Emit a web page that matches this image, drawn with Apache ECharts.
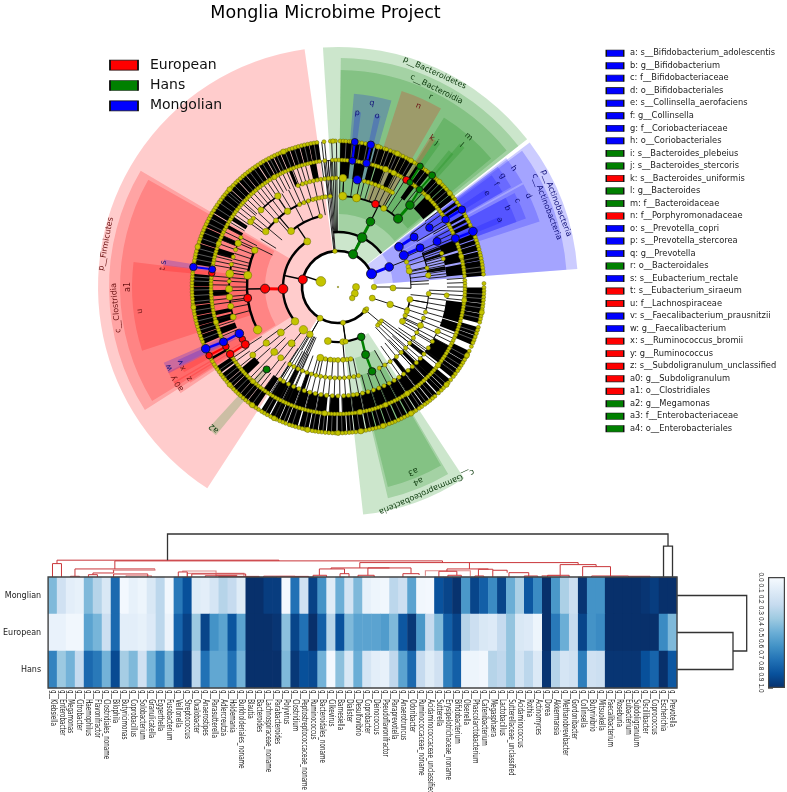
<!DOCTYPE html>
<html><head><meta charset="utf-8">
<style>html,body{margin:0;padding:0;background:#fff}#c{width:787px;height:792px}</style>
<script src="https://cdn.jsdelivr.net/npm/echarts@6/dist/echarts.min.js"></script>
</head><body><div id="c"></div>
<script>
const titleText='Monglia Microbime Project';
const groups=['European','Hans','Mongolian'];
const groupColors=['#ff0000','#008000','#0000ff'];
const taxa=['a: s__Bifidobacterium_adolescentis','b: g__Bifidobacterium','c: f__Bifidobacteriaceae','d: o__Bifidobacteriales','e: s__Collinsella_aerofaciens','f: g__Collinsella','g: f__Coriobacteriaceae','h: o__Coriobacteriales','i: s__Bacteroides_plebeius','j: s__Bacteroides_stercoris','k: s__Bacteroides_uniformis','l: g__Bacteroides','m: f__Bacteroidaceae','n: f__Porphyromonadaceae','o: s__Prevotella_copri','p: s__Prevotella_stercorea','q: g__Prevotella','r: o__Bacteroidales','s: s__Eubacterium_rectale','t: s__Eubacterium_siraeum','u: f__Lachnospiraceae','v: s__Faecalibacterium_prausnitzii','w: g__Faecalibacterium','x: s__Ruminococcus_bromii','y: g__Ruminococcus','z: s__Subdoligranulum_unclassified','a0: g__Subdoligranulum','a1: o__Clostridiales','a2: g__Megamonas','a3: f__Enterobacteriaceae','a4: o__Enterobacteriales'];
const taxaGroup=[2,2,2,2,2,2,2,2,1,1,0,1,1,0,2,2,2,1,2,0,0,2,2,0,0,0,0,0,1,1,1];

// [inner radius, outer radius, start angle, end angle, group]
const wedges=[
[36,240,213,352,0],[55,229,237.5,300.5,0],[73,218,238.5,299.5,0],[91,206,252,277,0],
[36,240,356.4,52,1],[55,229,0.7,52,1],[73,217,0.7,51,1],[91,200,32,50,1],[109,194,4.7,16,2],[91,206,18,30,0],
[36,240,53,85.7,2],[55,229,53.5,85.7,2],[73,212,52.5,60.5,2],[73,212,61,72,2],[91,200,53,60,2],[91,200,62,70,2],[109,190,54,60,2],[109,190,62,70,2],
[55,229,146.6,173.7,1],[73,217,149.5,166.7,1],[91,206,150,166,1],
[127,176,5.5,7.5,2],[127,176,12,14,2],[127,176,31.5,33.5,0],[127,176,33.5,35.5,1],[146,176,39,41,1],[109,188,40.3,42.3,1],
[127,176,56.5,58.5,2],[127,176,66.5,68.5,2],
[127,176,277,279,2],[127,176,275.3,277.3,0],[109,190,236,240,0],[109,190,239.5,243.5,0],[127,176,241,243,0],[127,176,237,239,0],[109,190,243,246.5,2],[127,176,243.5,245.5,2],[109,192,219.5,222.5,1]
];
const wedgeTexts=['p__Bacteroidetes','c__Bacteroidia','r','n','q','p','o','m','l','k','j','p__Actinobacteria','c__Actinobacteria','h','g','f','e','d','c','b','a','p__Firmicutes','c__Clostridia','a1','u','s','t','v','w','x','y','z','a0','a2','c__Gammaproteobacteria','a4','a3'];
// [radius, angle, group]
const wedgeTextPos=[[235,24.3,1],[221,26.5,1],[211.6,26,1],[198,24,0],[187,10.4,2],[175,6.3,2],[175.5,12.9,2],[199,41,1],[188,41,1],[176,32.2,0],[175,34.4,1],[234,69,2],[223.6,69,2],[212,56,2],[198.6,56,2],[188.4,57,2],[175.8,57.8,2],[211,64.4,2],[199,64.3,2],[186.6,65,2],[175,67.5,2],[236,280.5,0],[223,264.6,0],[210,270,0],[199.5,263,0],[176,278,2],[176,276,0],[174.4,244.4,2],[187,244.5,2],[175,242.4,0],[188,241,0],[174.5,238.4,0],[187,238,0],[188,221.3,1],[223,156.6,1],[210,157.6,1],[199,157.9,1]];

const outerBands=[[0.9,14.3],[15,18.9],[19.2,22.5],[22.8,25.5],[25.8,27.8],[28,31.4],[32.8,34],[35,39],[41,44.4],[44.6,46.5],[46.8,50.3],[50.5,52.7],[54,55.2],[56,57.2],[60,61.2],[62,63.2],[64,65.6],[68.5,70.6],[71,72.8],[73.1,75.4],[75.8,79.3],[79.5,85.6],[90.2,96.4],[96.6,100.5],[100.7,104.4],[106,109.4],[109.6,113.4],[116,120.4],[120.6,124.4],[124.6,128.5],[129.6,133.4],[133.6,136.8],[137.3,140.7],[141,144],[144.3,147.4],[147.8,151.2],[151.7,155.7],[156.2,160.6],[161,164.6],[165,168.7],[169.2,173.4],[173.8,176.3],[176.7,180.2],[180.6,184.4],[184.8,187.7],[188,191.4],[191.8,195.6],[196.2,200.4],[200.7,203.7],[204,207.8],[208.3,212],[214,218.4],[218.6,222.4],[222.6,226.4],[226.6,229.4],[229.6,233.2],[233.8,236.8],[240,241],[247,250.8],[251,254.3],[254.5,258.3],[258.6,262.5],[262.9,270.2],[270.4,275.2],[279,287.4],[287.7,294.2],[294.5,300.4],[300.8,312.2],[312.4,316.5],[316.8,320.4],[320.6,326.5],[326.9,330.5],[330.8,333.4],[333.7,336.5],[336.8,340.4],[340.7,344.5],[344.8,348.4],[348.6,352.3]];
const midBands=[[1,5.5],[7.5,12.5],[14,17],[17.5,21.5],[24,26.5],[35,37.5],[44,51.5],[68,73],[74,78.5],[79.5,84.5],[97,106.4],[106.8,111],[118,127],[130,135.9],[136.4,141.9],[142.4,146.9],[147.4,151.9],[152.4,156.9],[157.4,161.9],[162.4,167.9],[168.4,172.9],[173.4,177.9],[179.4,183.9],[185.4,189.9],[190.4,194.9],[195.4,199.9],[200.4,205.9],[206.4,211.9],[213,216],[226,230],[248,251],[253,256],[257,259],[266,268.5],[285,288],[292,294],[298,299.5],[302,304],[337,338.5],[347,350]];
const lowBands=[[68.5,70],[72,73.5],[79,81],[127,129],[134,136],[141,143],[198,200],[205,207.5]];
// thin pale lines that show between the dense branches
const paleLines=[3.2,5.7,8.8,11.6,16.4,20.6,24,30,37,43,48.6,78,82,84,92.8,94.6,98.3,102.4,108,111.2,118.4,122.6,126.3,131.8,135,139,142.6,145.6,149.5,153.6,158.4,163,167,171.4,175,178.4,182.6,186,190,193.4,198.4,202,206,210,216.2,220.4,224.5,228,231.4,235,249,252.7,256.4,260.6,264.2,266.6,268.8,272.4,274,281,283.2,285.4,289.6,292,296,298.3,303,305.4,307.5,309.8,311,314.4,318.6,322.5,324.6,328.6,332,335,338.6,342.5,346.6,350.5];
const lines109=[247,252,255,262,264,266,268,271,273,275,280,282,284,285.5,290,292,294,296,298,301,303,305,307,309,311,312,314,316,318,320,322,324,326,328,330,332,334,336,339,341,343,345,352.5,354,355.5,357,358.5,22,27,28,30,32,39,42,53,55,58,61,63,65,67,86,88,90,92,94,96,112,114,116,118,128,136,142,147,152,157,162,168,173,178,184,190,195,200,206,212,216,218,220,222,224,231,234,236];
const lines91=[255,259,262,265,268,270,273,275,279,281,283,285,288,291,295,297,306,310,313,317,320,323,326,329,333,336,339,343,347,351,354,356,1,3,8,14,17,20,23,26,29,32,36,54,60,66,68,69.5,71,72.5,74,75.5,77,78.5,80,81.5,83,84.5,92,94,97,100,103,106,109,112,115,118,121,125,129,133,137,141,145,149,153,157,161,165,169,173,176,179,182,185,188,191,194,197,200,203,206,209,212,215,219,224,228,232,237];
const lines73=[296,302,310,318,332,340,346,350,66,70,73,78,80,83,86,88,96,100,104,108,112,116,120,124,128,132,136,140,144,150,168,172,176,180,184,188,192,196,200,204,207,209,213,217,222,226,230,234];
// [inner radius, outer radius, angle]
const longSpokes=[[36,146,353.6],[36,146,354.7],[36,127,355.6],[55,127,356.5],[55,146,357.5],[55,127,358.5],[55,146,359.4],[55,146,206],[55,146,207.5],[55,146,205],[55,127,203.5],[36,73,210],[36,55,172],[55,146,211],[55,127,212.5],[55,109,128],[55,109,131],[55,127,134],[55,146,126],[55,127,137]];
// [parent radius, child radius, parent angle, arc start, arc end, width]
const branches=[[18,36,288,130,68.6,2.6],[36,55,282,231.4,326,2.4],[36,55,25,355,52,2.4],[36,55,172,155,190.6,2.2],[36,55,130,128,134,1],[36,55,108,107,109,1],[36,55,90,90,92,1],[36,55,210,210,212,1],[55,73,326,320,346,2.2],[55,73,175,170,194,1.8],[55,73,108.5,99.8,118,1.6],[55,73,231.4,229,233,1],[55,73,219,216,222,1.4],[55,73,91,77.3,91,1],[55,73,68.6,56.6,64.3,1.2],[73,91,268.7,242,293.8,2.4],[73,91,320,307.5,348,2],[73,91,26.4,3,41.3,2],[73,91,194,167,212,1.3],[73,91,77.3,68,82.6,1.2],[73,91,115,110,120,1.2],[73,91,100,94.2,106,1],[73,91,118,120,153,1],[91,109,277.4,269,281,1.8],[91,109,263,254,265,1.6],[91,109,293.8,290,297,1.4],[91,109,326.3,315,326.5,1.6],[91,109,307.5,306.7,309,1.4],[91,109,3,338,3,1.4],[91,109,11.7,10.2,12,1],[91,109,30.2,14,30,1.4],[91,109,212,180,212,1.1],[91,109,120,114,172,1],[109,127,3,340,30,0.8],[109,127,60,55,85,0.8],[109,127,100,90,200,0.8],[109,127,215,205,300,0.8]];
// [radius a, angle a, radius b, angle b, group, width]
const markerLinks=[[55,268,73,268.7,0,3],[127,242,146,242,0,2.2],[109,238.2,127,238.1,0,2],[36,68.6,55,68.6,2,3],[73,56.6,91,56.7,2,3],[73,64.3,91,64.5,2,3],[127,57.9,146,58,2,2.4],[127,67.5,146,67.6,2,2.4],[127,244.4,146,245,2,2.4],[109,244.8,127,244.4,2,2.4],[127,6.5,146,6.6,2,2.2],[127,13,146,13,2,2.2],[127,278,146,277.9,2,2],[55,26,73,26.4,1,3],[91,41.3,109,41.3,1,3],[109,41.3,127,39.9,1,2],[127,39.9,146,40.1,1,2],[127,34.5,146,34.2,1,2],[55,155,73,157.8,1,2.5],[73,157.8,91,158,1,2.5],[36,25,55,26,1,3]];
// [radius, angle, size, group]
const markerNodes=[[36,282,9,0],[55,268,9.6,0],[73,268.7,9,0],[91,263,8,0],[109,241.4,6.5,0],[109,238.2,8,0],[127,238.1,7.5,0],[127,242,6.5,0],[146,242,6.5,0],[127,276.3,6.5,0],[127,32.5,7,0],[91,24.3,7.5,0],
[36,24.7,9,1],[55,26,9.6,1],[73,26.4,8.5,1],[91,41.3,9,1],[109,41.3,8.5,1],[127,39.9,6.5,1],[146,40.1,7,1],[127,34.5,6,1],[146,34.2,6.5,1],[55,155,7.5,1],[73,157.8,8,1],[91,158,7.5,1],[109,220.9,7,1],
[36,68.6,10,2],[55,68.6,8.5,2],[73,56.6,8.5,2],[73,64.3,9,2],[91,56.7,8,2],[91,64.5,8,2],[109,57,7.5,2],[109,65.3,8,2],[127,57.9,7.5,2],[127,67.5,8,2],[146,58,7.5,2],[146,67.6,8.5,2],[109,10.2,8.5,2],[127,6.5,7,2],[127,13,7.5,2],[146,6.6,7,2],[146,13,7.5,2],[127,278,7,2],[146,277.9,7.5,2],[109,244.8,8.5,2],[127,244.4,8,2],[146,245,8.5,2]];
// [radius, angle, size]
const largeYellow=[[18,288,9.8],[18,90,7],[18,111,7],[18,128,5.5],[0,0,1.5],[36,90,5.5],[36,108,6],[36,210,6],[36,172,5],[36,355,4.5],[36,130,5.5],[36,127,4],[36,133,4],
[55,326,7],[55,231.4,7.5],[55,219,8.5],[55,210.7,6.5],[55,190.6,7],[55,175,6],[55,172,5],[55,91,6],[55,108.5,6.5],[55,131,4.5],[55,128,4],[55,134,4],
[73,320,7],[73,346,4.5],[73,231.5,7],[73,219.5,7],[73,194,7],[73,77.3,6],[73,99.8,6],[73,109.6,5],[73,118,6],[73,186,5],[73,180,5],[73,176,5],
[91,3,8],[91,11.7,8],[91,30.2,6],[91,277.4,8],[91,293.8,6.5],[91,242,8.5],[91,307.5,6.5],[91,326.3,6.5],[91,317,5],[91,224.5,7],[91,232,6.5],[91,219,6],[91,115,6],[91,94.2,5],[91,82.6,5.5],
[109,277,8],[109,269,7],[109,264.7,6.5],[109,259.8,6],[109,254,6],[109,293.7,6.5],[109,306.7,6],[109,315,6],[109,326.5,6.5],[109,2.6,7.5],[109,94.4,5],[109,114,5.5],[109,231.4,6],
[146,358,4.6],[146,24,5.4],[146,30,5],[127,22,6],[127,26,5.4],[146,171,5.4],[146,150,5.4],[127,170,5.4],[127,147,5.4],[146,16,5],[146,44,5.4],[146,50,5],[146,100,5.2],[146,118,5],[146,132,5.2],[146,162,5.4],[146,180,5],[146,192,5.4],[146,206,5],[146,216,5.4],[146,228,5],[146,262,5.2],[146,286,5.4],[146,312,5.2],[146,338,5.4],[127,12,5],[127,45,5.2],[127,76,5],[127,96,5.2],[127,128,5.2],[127,158,5],[127,186,5.4],[127,222,5],[127,254,5.2],[127,290,5.2],[127,330,5.2]];
const ring146=[0.8,2,3.1,4.4,5.2,8,9.4,10.9,12,14.5,15.7,17,18.6,19.4,21,22.5,23.3,25,26.4,27.8,29,30.4,31.6,33,35.5,36.9,38,39,41.5,42.8,44,45.6,46.8,48,49.3,50.6,51.9,53.1,54.6,56,59.7,61,62.3,63.5,64.9,66.2,69,70.1,71.3,72.6,73.8,75,76.4,77.5,78.7,80,81.2,82.4,83.7,85,88.6,90.2,91.5,92.7,94,95.2,96.6,97.8,99,100.3,101.5,102.7,104,106,107.2,108.6,110,111.3,112.5,114,116,117.4,118.6,119.9,121.2,122.5,123.8,125,126.5,127.8,129.5,131,132.3,133.7,135,136.5,138.4,139.7,141,142.3,143.5,145,146.2,147.8,149,150.4,151.6,153,154.3,155.6,157,158.3,159.5,161,162.2,163.7,165,166.3,167.6,169,170.3,171.6,173,174.4,175.6,177,178.3,179.7,181,182.2,183.6,185,186.4,187.7,189,190.2,191.7,193,194.2,195.6,197,198.3,199.5,201,202.3,203.6,205,206.2,207.5,209,210.3,211.5,213,214.3,215.5,216.8,218,219.3,220.6,222,223.2,224.4,225.7,227,228.2,229.5,230.8,232,233.2,234.5,235.8,237,238.1,239.4,240.7,243.5,246.6,248,249.2,250.5,251.8,253,254.3,255.5,256.8,258,259.3,260.5,261.8,263,264.2,265.5,266.8,268,269.2,270.5,271.7,273,274.2,275.4,276.6,279.3,280.5,281.8,283,284.2,285.5,286.7,288,289.2,290.4,291.7,293,294.2,295.5,296.7,298,299.2,300.4,301.7,303,304.2,305.5,306.7,308,309.2,310.4,311.7,313,314.2,315.5,316.7,318,319.3,320.5,321.8,323,324.2,325.5,326.7,328,329.2,330.5,331.7,333,334.2,335.5,336.7,338,339.2,340.5,341.7,343,344.2,345.5,346.7,348,349.3,350.5,351.7,354.5,357,359];
const ring127=[0.4,1.8,3,4.2,8.2,9.5,11,14.6,16,17.3,18.5,20,21.4,22.8,24.2,25.5,27,28.3,29.6,31,33.8,36,37.3,38.6,41.6,42.9,44.2,45.5,46.8,48.2,49.5,51,52.3,53.6,55,56.3,59.5,60.8,62,63.4,64.7,66,69,70.3,71.6,73,74.4,75.7,77,78.4,79.6,81,82.3,83.6,85,87,88.4,89.7,91,92.3,93.6,95,96.3,97.6,99,100.3,101.6,103,104.3,105.6,107,108.3,109.6,111,112.3,113.6,115,116.3,117.6,119,120.3,121.6,123,124.3,125.6,127,128.3,129.6,131,132.3,133.6,135,136.3,137.6,139,140.3,141.6,143,144.3,145.6,147,148.3,149.6,151,152.3,153.6,155,156.3,157.6,159,160.3,161.6,163,164.3,165.6,167,168.3,169.6,171,172.3,173.6,175,176.3,177.6,179,180.3,181.6,183,184.3,185.6,187,188.3,189.6,191,192.3,193.6,195,196.3,197.6,199,200.3,201.6,203,204.3,205.6,207,208.3,209.6,211,212.3,213.6,215,216.3,217.6,219,220.3,221.6,223,224.3,225.6,227,228.3,229.6,231,232.3,233.6,235,236.3,239.8,246.3,247.6,249,250.3,251.6,253,254.3,255.6,257,258.3,259.6,261,262.3,263.6,265,266.3,267.6,269,270.3,271.6,273,274.3,279.8,281,282.3,283.6,285,286.3,287.6,289,290.3,291.6,293,294.3,295.6,297,298.3,299.6,301,302.3,303.6,305,306.3,307.6,309,310.3,311.6,313,314.3,315.6,317,318.3,319.6,321,322.3,323.6,325,326.3,327.6,329,330.3,331.6,333,334.3,335.6,337,338.3,339.6,341,342.3,343.6,345,346.3,347.6,349,350.3,351.6,354,357.5,359];
const ring109=[282,286,290,273,297,338.5,341,343,345,347,349,351,353,355,357,359,14,16,18,20,22,24,26,27,28,29,30,72,75,120,124,128,131,134,137,140,143,146,149,152,155,158,161,164,167,170,172,174.5,177,180,183,186,189,192,195,198,201,204,207,210,212,309];
const ring91=[335,338,341,344,346,348,350,212,209,206,203,200,197,194,191,188,185,182,179,176,173,170,167,78,145,140,136,132,128,124,120,149,153,106,110,352,355];
const ring73=[190,183,173,170,108,113,70,74];

const genera=['Klebsiella','Enterobacter','Megamonas','Citrobacter','Haemophilus','Flavonifractor','Clostridiales_noname','Bilophila','Butyricimonas','Coprobacillus','Solobacterium','Granulicatella','Eggerthella','Fusobacterium','Veillonella','Streptococcus','Oxalobacter','Anaerostipes','Parasutterella','Adlercreutzia','Holdemania','Burkholderiales_noname','Blautia','Bacteroides','Lachnospiraceae_noname','Parabacteroides','Polyvirus','Clostridium','Peptostreptococcaceae_noname','Ruminococcus','Bacteroidales_noname','Cilkevirus','Barnesiella','Dialister','Desulfovibrio','Coprobacter','Deinococcus','Pseudoflavonifractor','Paraprevotella','Anaerotruncus','Odoribacter','Ruminococcaceae_noname','Acidaminococcaceae_unclassified','Sutterella','Erysipelotrichaceae_noname','Bifidobacterium','Olsenella','Phascolarctobacterium','Catenibacterium','Megasphaera','Lactobacillus','Sutterellaceae_unclassified','Acidaminococcus','Rothia','Actinomyces','Dorea','Akkermansia','Methanobrevibacter','Gordonibacter','Collinsella','Butyrivibrio','Mitsuokella','Faecalibacterium','Roseburia','Eubacterium','Subdoligranulum','Oscillibacter','Coprococcus','Escherichia','Prevotella'];
const rowNames=['Monglian','European','Hans'];
const monglian=[.45,.2,.1,.08,.45,.3,.15,.78,.02,.08,.05,.15,.28,.03,.72,.88,.12,.1,.17,.3,.25,.12,1,1,.95,.95,.02,.75,.2,.93,.62,.12,.5,.18,.45,.08,.05,.03,.28,.22,.55,.03,.02,.87,.92,.99,.6,.92,.82,.65,.92,.5,.33,.85,.65,1,.6,.33,.22,.98,.62,.62,1,1,1,1,.98,.95,1,1];
const european=[.07,.07,.03,.03,.55,.47,.22,.78,.1,.1,.08,.13,.28,.06,.8,.93,.38,.92,.62,.55,.86,.55,1,1,1,.98,.42,.92,.75,1,.82,.3,.87,.45,.55,.55,.55,.58,.45,.85,.97,.6,.25,.45,.82,.92,.3,.22,.15,.13,.25,.4,.15,.13,.05,1,.72,.5,.25,.92,.62,.65,1,1,1,1,1,1,.65,.45];
const hans=[.68,.38,.48,.25,.78,.72,.48,.9,.35,.45,.2,.47,.68,.45,.92,.98,.28,.75,.53,.53,.75,.48,1,1,1,1,.45,.97,.88,.9,.48,.02,.42,.15,.5,.17,.1,.08,.27,.55,.78,.25,.12,.2,.7,.82,.05,.05,.03,.3,.27,.4,.18,.28,.14,.98,.3,.17,.2,.7,.2,.22,.98,.98,.98,.98,.88,.8,1,.85];
const blues=['#f7fbff','#deebf7','#c6dbef','#9ecae1','#6baed6','#4292c6','#2171b5','#08519c','#08306b'];
const colorbarTop=[1];
// [left column, right column, height, left drop, right drop]
const blackLinks=[[13.3,69,42.7,16.7,30.7],[68.5,69.5,30.7,0,0]];
const redLinks=[[0.5,1.5,13.3,0,0],[1,25.7,16.7,13.3,16],[7.44,43.9,16,8,14.3],[3,11.9,8,0.7,7.5],[2.5,3.5,0.7,0,0],[4.5,5.5,2.3,0,0],[5,7.3,4,2.3,6.7],[7.3,11.1,3,0,0],[14.5,15.5,5,0,0],[16,22,3,0,0],[17.5,21,1.2,0,0],[19,23.5,0.6,0,0],[24,27.5,0.8,0,0],[27.5,29,0.6,0,0],
[34.7,59,14.3,9,12.3],[30.2,33,8,1.7,3.3],[32.5,33.5,3.3,0,0],[29.5,31,1.7,0,0],[31.5,38,9,8,9],[35.6,40.4,9,1.7,3.3],[34.5,36.3,1.7,0,0],[39.5,41.3,3.3,0,2],[46.9,46.9,14.3,8,14.3],[44.4,49,8,5.7,7.7],[43.5,45.5,5.7,0,1.7],[44.5,46,1.7,0,0],[47.9,49.5,7.7,1,6.7],[47.5,48.5,1,0,0],[49.5,51.1,6.7,0,4.3],[51.3,53.5,4.3,0,1],[53,54.5,1,0,0],[57,61,12.3,2,10.3],[55.6,58,1.7,0,0],[59.5,62.6,10.3,0.5,0.8],[60.5,64.6,1,0,0],[64.6,67,0.7,0,0]];
const pinkLinks=[[7.2,11.9,6.7,6.7,7.5],[15,18.7,6,5,1.7],[15.5,21.8,3.6,0,0],[18.7,21,1.7,0,0],[8.7,11.5,1.2,0,0],[25.5,28,0.4,0,0],[42,47,6.2,1.2,1],[55,57,1.4,0,0]];
const rightLinks=[[1,2,56,0,0],[0,1.5,69.7,0,56]];

const wedgeRows=wedges.map(w=>w.slice());
const bandRows=[].concat(outerBands.map(b=>[127,146,b[0],b[1]]),midBands.map(b=>[109,127,b[0],b[1]]),lowBands.map(b=>[91,109,b[0],b[1]]));
const spokeRows=[].concat(lines109.map(a=>[109,127,a]),lines91.map(a=>[91,109,a]),lines73.map(a=>[73,91,a]),longSpokes);
const paleRows=paleLines.map(a=>[128,145,a]);
const yellowRows=[].concat(ring73.map(a=>[73,a,4.5]),ring91.map(a=>[91,a,4.2]),ring109.map(a=>[109,a,4.2]),ring127.map(a=>[127,a,3.9]),ring146.map(a=>[146,a,4]),largeYellow);

function toZr(p,cx,cy){return Math.atan2(p[1]-cy,p[0]-cx)}
function sectorItem(params,api,fill,opacity){
  const cs=params.coordSys;
  const r0=api.value(0),r1=api.value(1),a0=api.value(2),a1=api.value(3);
  const p0=api.coord([r1,a0]),p1=api.coord([r1,a1]),q=api.coord([r0,a0]);
  let s=toZr(p0,cs.cx,cs.cy),e=toZr(p1,cs.cx,cs.cy);
  if(e<s)e+=Math.PI*2;
  return {type:'sector',shape:{cx:cs.cx,cy:cs.cy,r:Math.hypot(p0[0]-cs.cx,p0[1]-cs.cy),r0:Math.hypot(q[0]-cs.cx,q[1]-cs.cy),startAngle:s,endAngle:e,clockwise:true},style:{fill:fill,opacity:opacity}};
}
function linkPath(api,color,width){
  const x0=api.value(0),x1=api.value(1),h=api.value(2),d0=api.value(3),d1=api.value(4);
  const pts=[api.coord([x0,d0]),api.coord([x0,h]),api.coord([x1,h]),api.coord([x1,d1])];
  return {type:'polyline',shape:{points:pts},style:{stroke:color,lineWidth:width,fill:null}};
}
function spokeItem(api,color,width,opacity){
  const a=api.coord([api.value(0),api.value(2)]),b=api.coord([api.value(1),api.value(2)]);
  return {type:'line',shape:{x1:a[0],y1:a[1],x2:b[0],y2:b[1]},style:{stroke:color,lineWidth:width,opacity:opacity}};
}
const heatData=[];
[monglian,european,hans].forEach((row,r)=>row.forEach((v,c)=>heatData.push([c,r,v])));
const xLabels=genera.map(g=>'g__'+g);

const hiddenAxis={axisLine:{show:false},axisTick:{show:false},axisLabel:{show:false},splitLine:{show:false}};
const option={
 animation:false,
 title:{text:titleText,left:320.5,top:-1,textAlign:'center',textStyle:{fontFamily:'DejaVu Sans',fontSize:17.5,fontWeight:'normal',color:'#000'}},
 polar:{center:[338,287],radius:240},
 angleAxis:Object.assign({type:'value',min:0,max:360,startAngle:90,clockwise:true},hiddenAxis),
 radiusAxis:Object.assign({type:'value',min:0,max:240},hiddenAxis),
 grid:[
  {left:48,top:577,width:629,height:111},
  {left:48,top:533,width:629,height:44},
  {left:677,top:577,width:70,height:111},
  {left:768,top:577,width:17,height:111},
  {left:606,top:47,width:18,height:388},
  {left:110,top:55,width:28,height:61}
 ],
 xAxis:[
  Object.assign({gridIndex:0,type:'category',data:xLabels},hiddenAxis),
  Object.assign({gridIndex:1,type:'value',min:0,max:70},hiddenAxis),
  Object.assign({gridIndex:2,type:'value',min:0,max:70},hiddenAxis),
  Object.assign({gridIndex:3,type:'category',data:['c']},hiddenAxis),
  Object.assign({gridIndex:4,type:'value',min:0,max:1},hiddenAxis),
  Object.assign({gridIndex:5,type:'value',min:0,max:1},hiddenAxis)
 ],
 yAxis:[
  {gridIndex:0,type:'category',inverse:true,data:rowNames,axisLine:{show:false},axisTick:{show:false},axisLabel:{fontSize:8,fontFamily:'DejaVu Sans',color:'#222',margin:7}},
  Object.assign({gridIndex:1,type:'value',min:0,max:43.7},hiddenAxis),
  Object.assign({gridIndex:2,type:'value',min:-0.5,max:2.5,inverse:true},hiddenAxis),
  {gridIndex:3,type:'value',min:0,max:1,interval:0.1,inverse:true,axisLine:{show:false},splitLine:{show:false},axisTick:{show:true,inside:true,length:5,lineStyle:{color:'#777',width:1}},axisLabel:{rotate:-90,fontSize:6.5,fontFamily:'Liberation Sans',color:'#222',margin:4,formatter:v=>v.toFixed(1)}},
  Object.assign({gridIndex:4,type:'category',inverse:true,data:taxa},hiddenAxis),
  Object.assign({gridIndex:5,type:'category',inverse:true,data:groups},hiddenAxis)
 ],
 visualMap:{show:false,seriesIndex:[0],min:0,max:1,inRange:{color:blues}},
 series:[
  {type:'heatmap',xAxisIndex:0,yAxisIndex:0,data:heatData,itemStyle:{borderWidth:0}},
  {type:'custom',xAxisIndex:0,yAxisIndex:0,data:[[0,0]],z:5,renderItem:(p,api)=>({type:'rect',shape:{x:p.coordSys.x,y:p.coordSys.y,width:p.coordSys.width,height:p.coordSys.height},style:{fill:null,stroke:'#444',lineWidth:1.4}})},
  {type:'custom',xAxisIndex:0,yAxisIndex:0,data:xLabels.map((t,i)=>[i,2]),z:5,renderItem:(p,api)=>{
    const pt=api.coord([api.value(0),api.value(1)]);
    return {type:'text',x:pt[0],y:p.coordSys.y+p.coordSys.height+2,rotation:-Math.PI/2,scaleX:0.7,style:{text:xLabels[p.dataIndex],fontSize:8,fontFamily:'DejaVu Sans',fill:'#222',align:'left',verticalAlign:'middle'}};
  }},
  {type:'custom',xAxisIndex:1,yAxisIndex:1,data:pinkLinks,renderItem:(p,api)=>linkPath(api,'#e08a8a',1.1)},
  {type:'custom',xAxisIndex:1,yAxisIndex:1,data:redLinks,renderItem:(p,api)=>linkPath(api,'#c9363a',1)},
  {type:'custom',xAxisIndex:1,yAxisIndex:1,data:blackLinks,renderItem:(p,api)=>linkPath(api,'#333',1.3)},
  {type:'custom',xAxisIndex:2,yAxisIndex:2,data:rightLinks,renderItem:(p,api)=>{
    const a=api.value(0),b=api.value(1),h=api.value(2),d0=api.value(3),d1=api.value(4);
    return {type:'polyline',shape:{points:[api.coord([d0,a]),api.coord([h,a]),api.coord([h,b]),api.coord([d1,b])]},style:{stroke:'#333',lineWidth:1.3,fill:null}};
  }},
  {type:'bar',xAxisIndex:3,yAxisIndex:3,data:colorbarTop,barWidth:'100%',silent:true,itemStyle:{borderColor:'#444',borderWidth:1.2,color:new echarts.graphic.LinearGradient(0,0,0,1,blues.map((c,i)=>({offset:i/8,color:c})))},z:1},
  {type:'scatter',xAxisIndex:4,yAxisIndex:4,clip:false,symbol:'rect',symbolSize:[17.5,6.4],data:taxa.map((t,i)=>({value:[0.5,i],name:t,itemStyle:{color:groupColors[taxaGroup[i]],opacity:1}})),itemStyle:{borderColor:'#111',borderWidth:0.9,opacity:1},label:{show:true,position:'right',distance:5.5,formatter:'{b}',fontSize:8.3,fontFamily:'DejaVu Sans',color:'#222'}},
  {type:'scatter',xAxisIndex:5,yAxisIndex:5,clip:false,symbol:'rect',symbolSize:[28,10],data:groups.map((t,i)=>({value:[0.5,i],name:t,itemStyle:{color:groupColors[i],opacity:1}})),itemStyle:{borderColor:'#111',borderWidth:1.1,opacity:1},label:{show:true,position:'right',distance:11,formatter:'{b}',fontSize:14,fontFamily:'DejaVu Sans',color:'#111'}},
  {type:'custom',coordinateSystem:'polar',data:wedgeRows,z:1,renderItem:(p,api)=>sectorItem(p,api,groupColors[api.value(4)],0.2)},
  {type:'custom',coordinateSystem:'polar',data:wedgeTextPos,z:2,renderItem:(p,api)=>{
    const r=api.value(0),a=api.value(1),g=api.value(2),pt=api.coord([r,a]);
    const dark=['#6a1010','#0c3a0c','#10107a'][g];
    return {type:'text',x:pt[0],y:pt[1],rotation:-a*Math.PI/180,style:{text:wedgeTexts[p.dataIndex],fontSize:8,fontFamily:'DejaVu Sans',fill:dark,align:'center',verticalAlign:'middle'}};
  }},
  {type:'custom',coordinateSystem:'polar',data:bandRows,z:3,renderItem:(p,api)=>sectorItem(p,api,'#000',1)},
  {type:'custom',coordinateSystem:'polar',data:paleRows,z:3,renderItem:(p,api)=>spokeItem(api,'#ffffff',0.7,0.5)},
  {type:'custom',coordinateSystem:'polar',data:spokeRows,z:3,renderItem:(p,api)=>spokeItem(api,'#111',0.9,1)},
  {type:'custom',coordinateSystem:'polar',data:branches,z:3,renderItem:(p,api)=>{
    const cs=p.coordSys,r0=api.value(0),r1=api.value(1),pa=api.value(2),a0=api.value(3),a1=api.value(4),w=api.value(5);
    const u=api.coord([r0,pa]),v=api.coord([r1,pa]),s=api.coord([r1,a0]),e=api.coord([r1,a1]);
    let sa=toZr(s,cs.cx,cs.cy),ea=toZr(e,cs.cx,cs.cy);if(ea<sa)ea+=Math.PI*2;
    return {type:'group',children:[
      {type:'line',shape:{x1:u[0],y1:u[1],x2:v[0],y2:v[1]},style:{stroke:'#000',lineWidth:Math.max(0.9,w*0.6)}},
      {type:'arc',shape:{cx:cs.cx,cy:cs.cy,r:Math.hypot(s[0]-cs.cx,s[1]-cs.cy),startAngle:sa,endAngle:ea,clockwise:true},style:{stroke:'#000',lineWidth:w,fill:null}}
    ]};
  }},
  {type:'custom',coordinateSystem:'polar',data:markerLinks,z:4,renderItem:(p,api)=>{
    const a=api.coord([api.value(0),api.value(1)]),b=api.coord([api.value(2),api.value(3)]);
    return {type:'line',shape:{x1:a[0],y1:a[1],x2:b[0],y2:b[1]},style:{stroke:groupColors[api.value(4)],lineWidth:api.value(5)}};
  }},
  {type:'scatter',coordinateSystem:'polar',clip:false,data:yellowRows,z:5,symbolSize:v=>v[2],itemStyle:{color:'#c4c400',borderColor:'#5f5f00',borderWidth:0.45,opacity:1}},
  {type:'scatter',coordinateSystem:'polar',clip:false,data:markerNodes.map(n=>({value:n,itemStyle:{color:groupColors[n[3]]}})),z:6,symbolSize:v=>v[2],itemStyle:{borderColor:'#111',borderWidth:0.8,opacity:1}}
 ]
};
echarts.init(document.getElementById('c'),null,{renderer:'canvas'}).setOption(option);
</script></body></html>
